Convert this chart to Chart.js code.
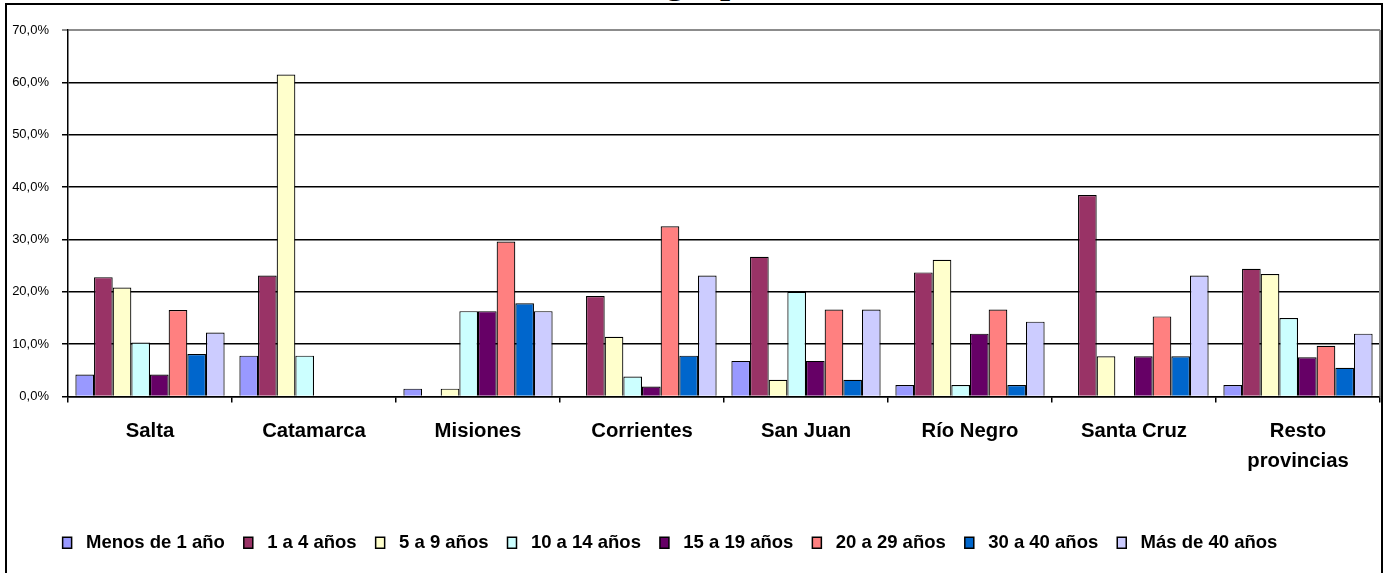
<!DOCTYPE html>
<html>
<head>
<meta charset="utf-8">
<script src="https://cdn.jsdelivr.net/npm/chart.js@4"></script>
<style>
  html, body { margin: 0; padding: 0; background: #fff; overflow: hidden; }
  #wrap { position: relative; width: 1385px; height: 573px; overflow: hidden; }
  #frame { position: absolute; left: 5px; top: 3px; width: 1378px; height: 600px; border: 2px solid #000; box-sizing: border-box; pointer-events: none; }
  #title { position: absolute; left: 666px; top: -37px; font: bold 36px "Liberation Serif", "Times New Roman", serif; line-height: 36px; white-space: nowrap; }
  canvas { position: absolute; left: 0; top: 0; }
</style>
</head>
<body>
<div id="wrap">
  <div id="title">grupo</div>
  <canvas id="myChart" width="1385" height="573"></canvas>
  <div id="frame"></div>
</div>
<script>
// provincias
const provincias = ["Salta", "Catamarca", "Misiones", "Corrientes", "San Juan", "Río Negro", "Santa Cruz", ["Resto", "provincias"]];

// porcentaje por antigüedad
const menos1 = [4.2, 7.8, 1.5, 0, 6.8, 2.2, 0, 2.2];
const de1a4 = [22.8, 23.1, 0, 19.2, 26.7, 23.7, 38.5, 24.4];
const de5a9 = [20.8, 61.5, 1.5, 11.4, 3.2, 26.1, 7.7, 23.4];
const de10a14 = [10.3, 7.8, 16.3, 3.8, 20.0, 2.2, 0, 15.0];
const de15a19 = [4.2, 0, 16.3, 1.9, 6.8, 12.0, 7.7, 7.5];
const de20a29 = [16.5, 0, 29.6, 32.5, 16.6, 16.6, 15.3, 9.7];
const de30a40 = [8.1, 0, 17.8, 7.8, 3.2, 2.2, 7.7, 5.5];
const mas40 = [12.2, 0, 16.3, 23.1, 16.6, 14.3, 23.1, 12.0];

const yTicks = [0, 10, 20, 30, 40, 50, 60, 70];

const series = [
  { label: "Menos de 1 año", data: menos1, color: "#9999FF" },
  { label: "1 a 4 años", data: de1a4, color: "#993366" },
  { label: "5 a 9 años", data: de5a9, color: "#FFFFCC" },
  { label: "10 a 14 años", data: de10a14, color: "#CCFFFF" },
  { label: "15 a 19 años", data: de15a19, color: "#660066" },
  { label: "20 a 29 años", data: de20a29, color: "#FF8080" },
  { label: "30 a 40 años", data: de30a40, color: "#0066CC" },
  { label: "Más de 40 años", data: mas40, color: "#CCCCFF" },
];

// gray line on the right side of the plot, legend nudged a bit to the left
const extras = {
  id: "extras",
  afterLayout(chart) {
    chart.legend.left -= 20;
    chart.legend.right -= 20;
  },
  afterDraw(chart) {
    const { ctx, chartArea } = chart;
    ctx.save();
    ctx.strokeStyle = "#8c8c8c";
    ctx.lineWidth = 2;
    ctx.beginPath();
    ctx.moveTo(chartArea.right, chartArea.top);
    ctx.lineTo(chartArea.right, chartArea.bottom);
    ctx.stroke();
    ctx.restore();
  },
};

new Chart(document.getElementById("myChart"), {
  type: "bar",
  data: {
    labels: provincias,
    datasets: series.map((s) => ({
      label: s.label,
      data: s.data,
      backgroundColor: s.color,
      borderColor: "#000",
      borderWidth: 1.2,
      borderSkipped: "bottom",
      barPercentage: 1.0,
      categoryPercentage: 0.91,
    })),
  },
  options: {
    responsive: false,
    devicePixelRatio: 1,
    animation: false,
    layout: { padding: { top: 30, right: 5, left: 0, bottom: 11 } },
    plugins: {
      tooltip: { enabled: false },
      legend: {
        position: "bottom",
        labels: {
          color: "#000",
          boxWidth: 9,
          boxHeight: 11,
          padding: 19,
          font: { family: "'Liberation Sans', Arial, sans-serif", size: 18.5, weight: "bold" },
          generateLabels(chart) {
            return chart.data.datasets.map((ds, i) => ({
              text: " " + ds.label,
              fillStyle: ds.backgroundColor,
              strokeStyle: "#000",
              lineWidth: 1.5,
              datasetIndex: i,
            }));
          },
        },
      },
    },
    scales: {
      x: {
        grid: { offset: true, drawOnChartArea: false, drawTicks: true, tickLength: 6, color: "#000", lineWidth: 1.5 },
        border: { color: "#000", width: 1.5 },
        ticks: {
          color: "#000",
          padding: 14,
          maxRotation: 0,
          autoSkip: false,
          font: { family: "'Liberation Sans', Arial, sans-serif", size: 20.3, weight: "bold", lineHeight: 1.48 },
        },
        afterFit(scale) { scale.height = 118; },
      },
      y: {
        min: 0,
        max: 70,
        afterBuildTicks(scale) { scale.ticks = yTicks.map((v) => ({ value: v })); },
        grid: {
          color: (c) => (c.tick && c.tick.value === 70 ? "#8c8c8c" : "#000"),
          lineWidth: (c) => (c.tick && c.tick.value === 70 ? 2 : 1.5),
          tickLength: 6,
        },
        border: { color: "#000", width: 1.5 },
        ticks: {
          color: "#000",
          padding: 13,
          font: { family: "'Liberation Sans', Arial, sans-serif", size: 13 },
          callback: (v) => v.toFixed(1).replace(".", ",") + "%",
        },
        afterFit(scale) { scale.width = 68; },
      },
    },
  },
  plugins: [extras],
});
</script>
</body>
</html>
